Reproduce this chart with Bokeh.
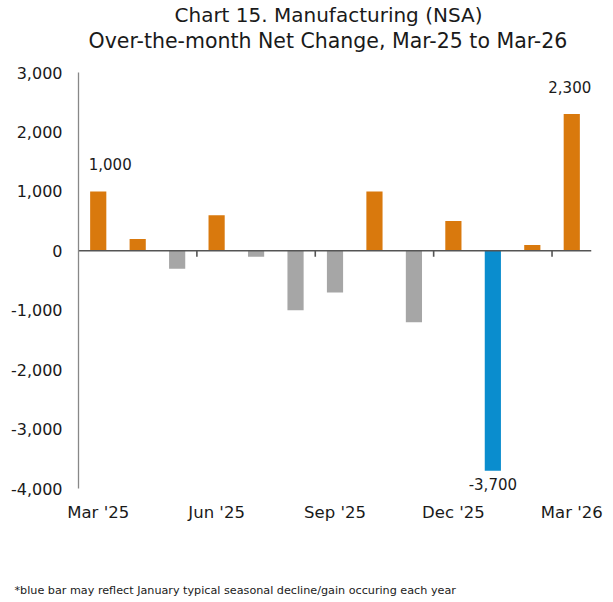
from bokeh.plotting import figure
from bokeh.models import Range1d, FixedTicker, Label, Title, NumeralTickFormatter
from bokeh.embed import file_html
from bokeh.resources import INLINE

# ---- data ----
months = ["Mar '25", "Apr '25", "May '25", "Jun '25", "Jul '25", "Aug '25", "Sep '25",
          "Oct '25", "Nov '25", "Dec '25", "Jan '26", "Feb '26", "Mar '26"]
values = [1000, 200, -300, 600, -100, -1000, -700, 1000, -1200, 500, -3700, 100, 2300]
tick_labels = ["Mar '25", "Jun '25", "Sep '25", "Dec '25", "Mar '26"]
y_ticks = [-4000, -3000, -2000, -1000, 0, 1000, 2000, 3000]
labelled = ["Mar '25", "Jan '26", "Mar '26"]
title_lines = ["Chart 15. Manufacturing (NSA)", "Over-the-month Net Change, Mar-25 to Mar-26"]
footnote = "*blue bar may reflect January typical seasonal decline/gain occuring each year"

ORANGE = "#D9790D"
GRAY = "#A6A6A6"
BLUE = "#0A8DCE"
TXT = "#1a1a1a"
FONT = "DejaVu Sans"

n = len(months)
xs = [i + 0.5 for i in range(n)]
colors = [BLUE if m.startswith("Jan") else (ORANGE if v >= 0 else GRAY) for m, v in zip(months, values)]

# a little room under the axis so the lowest data label is not clipped
y_pad = 150
p = figure(width=613, height=602, output_backend="svg", toolbar_location=None,
           x_range=Range1d(0, n), y_range=Range1d(y_ticks[0] - y_pad, y_ticks[-1]),
           min_border_left=78, min_border_right=22, min_border_top=72, min_border_bottom=105)
p.outline_line_color = None
p.xgrid.visible = False
p.ygrid.visible = False
p.background_fill_color = "white"

p.vbar(x=xs, top=values, bottom=0, width=0.41, fill_color=colors, line_color=None)

# zero line + tick marks every quarter
p.segment(x0=[0], y0=[0], x1=[n], y1=[0], line_color="#555555", line_width=1.6)
bx = [i for i in range(3, n, 3)]
p.segment(x0=bx, y0=[0] * len(bx), x1=bx, y1=[-100] * len(bx), line_color="#555555", line_width=1.6)

# y axis
ya = p.yaxis[0]
ya.ticker = FixedTicker(ticks=y_ticks)
ya.bounds = (y_ticks[0], y_ticks[-1])
ya.formatter = NumeralTickFormatter(format="0,0")
ya.axis_line_color = "#888888"
ya.axis_line_width = 1.3
ya.major_tick_line_color = None
ya.minor_tick_line_color = None
ya.major_tick_out = 0
ya.major_tick_in = 0
ya.major_label_standoff = 16
ya.major_label_text_font = FONT
ya.major_label_text_font_size = "16px"
ya.major_label_text_color = TXT

# x axis (blank axis label used only as vertical spacing before the footnote)
xa = p.xaxis[0]
tick_pos = [xs[months.index(t)] for t in tick_labels]
xa.ticker = FixedTicker(ticks=tick_pos)
xa.major_label_overrides = {tp: t for tp, t in zip(tick_pos, tick_labels)}
xa.axis_line_color = None
xa.major_tick_line_color = None
xa.minor_tick_line_color = None
xa.major_tick_out = 0
xa.major_tick_in = 0
xa.major_label_standoff = 5
xa.major_label_text_font = FONT
xa.major_label_text_font_size = "16.5px"
xa.major_label_text_color = TXT
xa.axis_label = " "
xa.axis_label_text_font_size = "10px"
xa.axis_label_standoff = 41

# data labels
for m in labelled:
    i = months.index(m)
    v = values[i]
    x_off = 12 if i == 0 else (-2 if i == n - 1 else 0)
    p.add_layout(Label(x=xs[i], y=v, text=f"{v:,}", x_offset=x_off,
                       y_offset=27 if v >= 0 else -13,
                       text_align="center", text_baseline="middle",
                       text_font=FONT, text_font_size="15px", text_color=TXT))

# title: two lines (outer = plot title), blank spacer next to the plot area
t1 = Title(text=title_lines[0], align="left", offset=96, standoff=0,
           text_font=FONT, text_font_size="20px", text_font_style="normal", text_color=TXT)
spacer = Title(text=" ", align="left", standoff=7,
               text_font=FONT, text_font_size="10px", text_font_style="normal", text_color=TXT)
t2 = Title(text=title_lines[1], align="left", offset=10, standoff=0,
           text_font=FONT, text_font_size="20.5px", text_font_style="normal", text_color=TXT)
p.title = t1
p.add_layout(spacer, "above")
p.add_layout(t2, "above")

# footnote
fn = Title(text=footnote, align="left", offset=-64, standoff=4,
           text_font=FONT, text_font_size="11.2px", text_font_style="normal", text_color=TXT)
p.add_layout(fn, "below")

open("out.html", "w").write(file_html(p, INLINE))
